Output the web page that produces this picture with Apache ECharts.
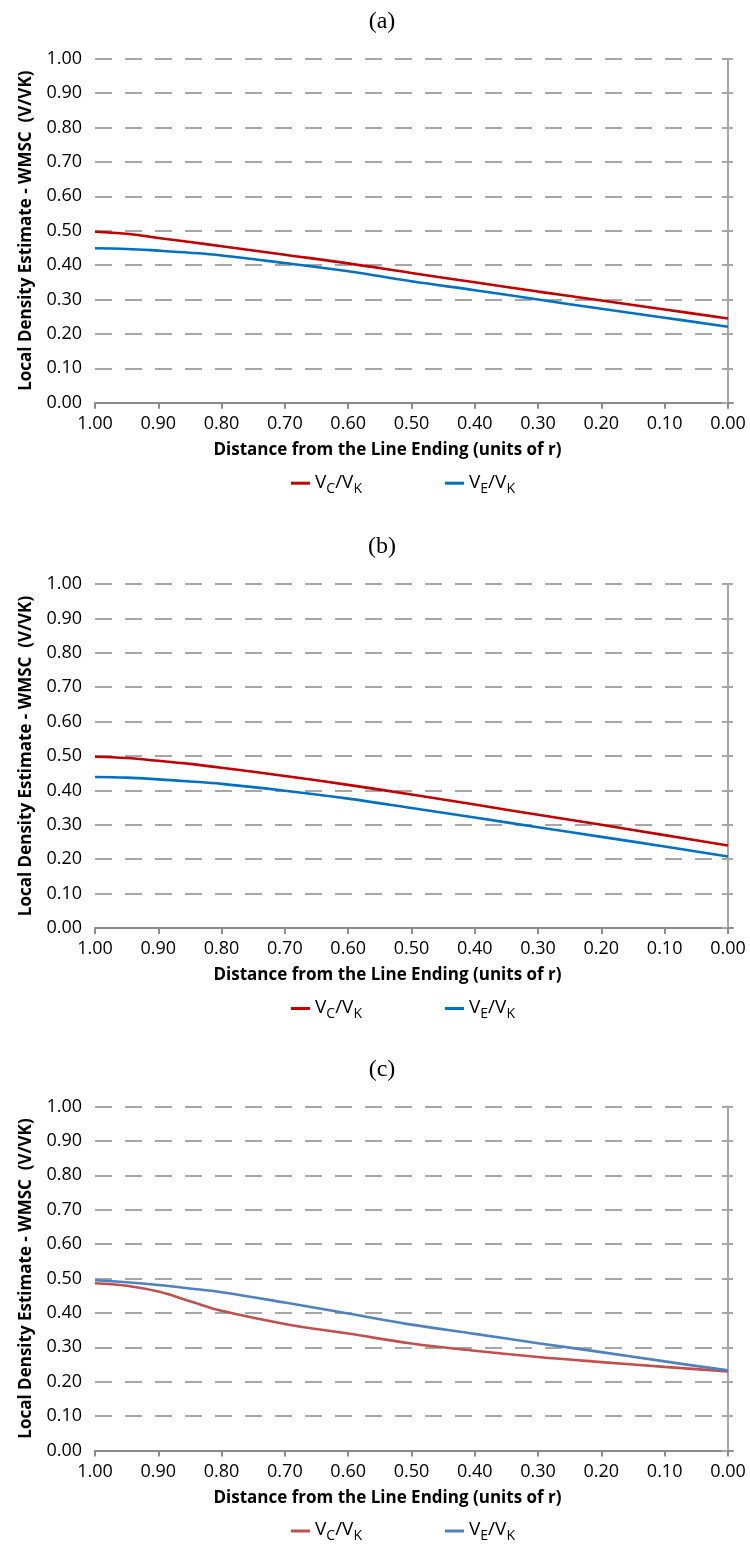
<!DOCTYPE html>
<html>
<head>
<meta charset="utf-8">
<script src="https://cdn.jsdelivr.net/npm/echarts@6/dist/echarts.min.js"></script>
<style>
  html, body { margin: 0; padding: 0; background: #ffffff; }
  #chart { width: 750px; height: 1549px; }
</style>
</head>
<body>
<div id="chart"></div>
<script>
// Distance from the line ending (units of r), shared by every series
const distance = [1.00, 0.95, 0.90, 0.85, 0.80, 0.70, 0.60, 0.50, 0.40, 0.30, 0.20, 0.10, 0.00];

// Panel (a)
const vcA = [0.497, 0.491, 0.479, 0.467, 0.455, 0.430, 0.405, 0.377, 0.350, 0.323, 0.297, 0.271, 0.245];
const veA = [0.449, 0.447, 0.442, 0.436, 0.428, 0.406, 0.382, 0.353, 0.327, 0.300, 0.273, 0.247, 0.221];
// Panel (b)
const vcB = [0.498, 0.494, 0.486, 0.477, 0.466, 0.442, 0.416, 0.388, 0.359, 0.329, 0.300, 0.270, 0.240];
const veB = [0.439, 0.437, 0.432, 0.426, 0.419, 0.399, 0.376, 0.349, 0.321, 0.293, 0.265, 0.237, 0.208];
// Panel (c)
const vcC = [0.486, 0.479, 0.462, 0.434, 0.406, 0.368, 0.340, 0.311, 0.290, 0.272, 0.257, 0.243, 0.230];
const veC = [0.495, 0.489, 0.481, 0.471, 0.460, 0.430, 0.398, 0.366, 0.339, 0.312, 0.286, 0.259, 0.233];

// Tick labels on the distance axis
const xTicks = [0, 0.1, 0.2, 0.3, 0.4, 0.5, 0.6, 0.7, 0.8, 0.9, 1.0];
const panelTitles = ['(a)', '(b)', '(c)'];

const yName = 'Local Density Estimate - WMSC  (V/VK)';
const xName = 'Distance from the Line Ending (units of r)';

const panels = [
  { vc: vcA, ve: veA, red: '#C00000', blue: '#0070C0' },
  { vc: vcB, ve: veB, red: '#C00000', blue: '#0070C0' },
  { vc: vcC, ve: veC, red: '#C0504D', blue: '#4F81BD' }
];

const SANS = '"Open Sans", "Noto Sans", sans-serif';
const plotTops = [58.7, 584, 1106.5];
const plotH = 344;
const plotLeft = 95;
const plotW = 638;

const grid = [], xAxis = [], yAxis = [], series = [], legend = [], graphic = [];

panels.forEach((p, i) => {
  const top = plotTops[i];
  const axisY = top + plotH;
  grid.push({ left: plotLeft, top: top, width: plotW, height: plotH, containLabel: false });

  xAxis.push({
    type: 'value', gridIndex: i, inverse: true, min: -0.008, max: 1,
    axisLine: { show: true, lineStyle: { color: '#8C8C8C', width: 2 } },
    axisTick: { show: true, customValues: xTicks, length: 6, lineStyle: { color: '#8C8C8C', width: 2 } },
    axisLabel: {
      customValues: xTicks, formatter: v => v.toFixed(2), margin: 12,
      fontSize: 18, color: '#000', fontFamily: SANS
    },
    splitLine: { show: false },
    name: xName, nameLocation: 'middle', nameGap: 39,
    nameTextStyle: { fontSize: 17, fontWeight: 'bold', color: '#000', fontFamily: SANS, padding: [0, 53, 0, 0] }
  });

  yAxis.push({
    type: 'value', gridIndex: i, min: 0, max: 1, interval: 0.1,
    axisLine: { show: true, lineStyle: { color: '#A6A6A6', width: 2 } },
    axisTick: { show: true, length: 6, lineStyle: { color: '#A6A6A6', width: 2 } },
    axisLabel: { formatter: v => v.toFixed(2), margin: 13, fontSize: 18, color: '#000', fontFamily: SANS },
    splitLine: { show: true, lineStyle: { color: '#A6A6A6', width: 2, type: [17, 13] } },
    name: yName, nameLocation: 'middle', nameGap: 60,
    nameTextStyle: { fontSize: 17, fontWeight: 'bold', color: '#000', fontFamily: SANS }
  });

  const vcName = 'vc' + i, veName = 've' + i;
  series.push({
    name: vcName, type: 'line', xAxisIndex: i, yAxisIndex: i,
    data: distance.map((d, k) => [d, p.vc[k]]),
    smooth: 0.4, symbol: 'none', color: p.red,
    lineStyle: { color: p.red, width: 2.6 }
  });
  series.push({
    name: veName, type: 'line', xAxisIndex: i, yAxisIndex: i,
    data: distance.map((d, k) => [d, p.ve[k]]),
    smooth: 0.4, symbol: 'none', color: p.blue,
    lineStyle: { color: p.blue, width: 2.6 }
  });

  const legendBase = {
    top: axisY + 70, padding: 0, icon: 'rect', itemWidth: 19, itemHeight: 3,
    selectedMode: false,
    formatter: name => name.startsWith('vc') ? '{m|V}{s|C}{m|/V}{s|K}' : '{m|V}{s|E}{m|/V}{s|K}',
    textStyle: {
      rich: {
        m: { fontSize: 19, lineHeight: 21, verticalAlign: 'top', color: '#000', fontFamily: SANS },
        s: { fontSize: 14, lineHeight: 14, padding: [9, 0, 0, 0], verticalAlign: 'top', color: '#000', fontFamily: SANS }
      }
    }
  };
  legend.push(Object.assign({}, legendBase, { left: 291, data: [vcName] }));
  legend.push(Object.assign({}, legendBase, { left: 445, data: [veName] }));

  graphic.push({
    type: 'text', x: 382, y: top - 37,
    style: {
      text: panelTitles[i], textAlign: 'center', textVerticalAlign: 'middle',
      font: '24px "Liberation Serif", "DejaVu Serif", serif', fill: '#000'
    }
  });
});

const chart = echarts.init(document.getElementById('chart'), null, { renderer: 'canvas' });
chart.setOption({
  backgroundColor: '#ffffff',
  animation: false,
  grid, xAxis, yAxis, series, legend, graphic
});
</script>
</body>
</html>
